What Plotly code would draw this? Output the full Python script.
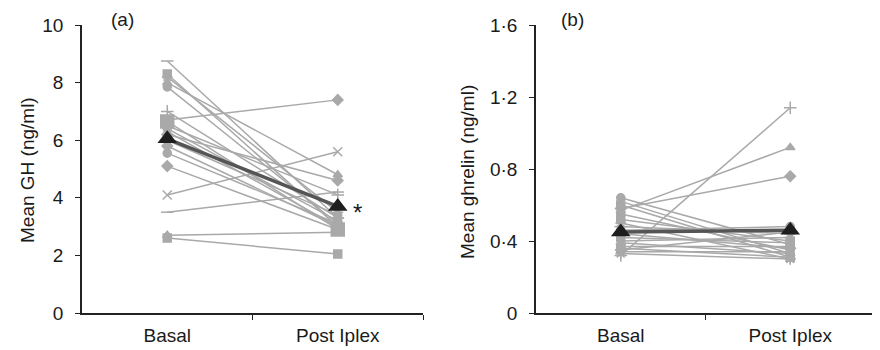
import plotly.graph_objects as go

categories = ["Basal", "Post Iplex"]

# Panel (a): mean GH (ng/ml), one pair per subject
gh_basal = [8.75, 8.3, 8.2, 8.0, 7.85, 6.7, 6.65, 6.5, 6.4, 6.3, 6.2, 5.55, 5.1, 4.1, 3.5, 2.7, 2.6, 6.0, 7.0, 5.8]
gh_post = [3.3, 3.0, 3.5, 4.8, 3.1, 7.4, 2.9, 4.1, 3.2, 3.0, 4.6, 3.1, 2.9, 5.6, 4.2, 2.8, 2.05, 3.4, 3.3, 3.0]
gh_mean = [6.05, 3.7]

# Panel (b): mean ghrelin (ng/ml)
gr_basal = [0.64, 0.62, 0.60, 0.58, 0.57, 0.55, 0.52, 0.50, 0.48, 0.46, 0.44, 0.42, 0.40, 0.39, 0.37, 0.36, 0.35, 0.34, 0.33, 0.32]
gr_post = [0.38, 0.33, 0.31, 0.76, 0.92, 0.35, 0.40, 0.30, 0.44, 0.48, 0.36, 0.39, 0.42, 0.33, 0.37, 0.31, 0.45, 0.34, 0.30, 1.14]
gr_mean = [0.45, 0.46]

gh_ticks = [0, 2, 4, 6, 8, 10]
gh_ticktext = ["0", "2", "4", "6", "8", "10"]
gr_ticks = [0, 0.4, 0.8, 1.2, 1.6]
gr_ticktext = ["0", "0·4", "0·8", "1·2", "1·6"]

symbols = ["line-ew-open", "square", "asterisk-open", "triangle-up", "circle", "diamond",
           "square", "cross-thin-open", "circle", "x-thin-open", "diamond", "circle",
           "diamond", "x-thin-open", "line-ew-open", "triangle-up", "square", "circle",
           "cross-thin-open", "diamond"]
gr_symbols = ["circle", "x-thin-open", "square", "diamond", "triangle-up", "circle",
              "square", "asterisk-open", "line-ew-open", "circle", "diamond", "square",
              "x-thin-open", "triangle-up", "circle", "square", "diamond", "x-thin-open",
              "asterisk-open", "cross-thin-open"]

xpos = [0.5, 1.5]
GRAY = "#a9a9a9"
OFF = 8  # page body margin offset in px

fig = go.Figure()


def add_panel(basal, post, mean, syms, xa, ya, big_sq=None):
    for i, (b, p) in enumerate(zip(basal, post)):
        s = syms[i % len(syms)]
        size = 8
        if s.endswith("-open"):
            size = 9
        if big_sq is not None and i == big_sq:
            size = 13
        fig.add_trace(go.Scatter(
            x=xpos, y=[b, p], mode="lines+markers", xaxis=xa, yaxis=ya,
            line=dict(color=GRAY, width=1.5),
            marker=dict(symbol=s, size=size, color=GRAY, line=dict(color=GRAY, width=1.5)),
            showlegend=False, hoverinfo="skip"))
    fig.add_trace(go.Scatter(
        x=xpos, y=mean, mode="lines+markers", xaxis=xa, yaxis=ya,
        line=dict(color="#555555", width=3.5),
        marker=dict(symbol="triangle-up", size=17, color="#1e1e1e"),
        showlegend=False, hoverinfo="skip"))


add_panel(gh_basal, gh_post, gh_mean, symbols, "x", "y", big_sq=6)
add_panel(gr_basal, gr_post, gr_mean, gr_symbols, "x2", "y2")

W, H = 880, 350
def px(xp):
    return (xp - OFF) / W
def py(yp):
    return (H - (yp - OFF)) / H

ydom = [py(313), py(25)]
FONT = "Liberation Sans, Arial, sans-serif"
tickfont = dict(family=FONT, size=19, color="#1a1a1a")

xcommon = dict(range=[0, 2], tickmode="array", tickvals=xpos, ticktext=categories,
               ticks="", showgrid=False, zeroline=False, showline=True,
               linecolor="#222222", linewidth=1.5, tickfont=tickfont,
               ticklabelstandoff=4,
               minor=dict(tickmode="array", tickvals=[1, 2], ticks="outside",
                          ticklen=5, tickcolor="#222222", tickwidth=1, showgrid=False),
               automargin=False)
ycommon = dict(tickmode="array", ticks="outside", ticklen=5, tickcolor="#222222",
               showgrid=False, zeroline=False, showline=True, linecolor="#222222",
               linewidth=1.5, tickfont=tickfont, ticklabelstandoff=8, automargin=False)

fig.update_layout(
    width=W, height=H,
    margin=dict(l=0, r=0, t=0, b=0),
    paper_bgcolor="white", plot_bgcolor="white",
    xaxis=dict(domain=[px(82), px(423)], anchor="y", **xcommon),
    xaxis2=dict(domain=[px(536), px(875)], anchor="y2", **xcommon),
    yaxis=dict(domain=ydom, range=[0, 10], tickvals=gh_ticks, ticktext=gh_ticktext,
               anchor="x", **ycommon),
    yaxis2=dict(domain=ydom, range=[0, 1.6], tickvals=gr_ticks, ticktext=gr_ticktext,
                anchor="x2", **ycommon),
    font=dict(family=FONT, color="#1a1a1a"),
)

labfont = dict(family=FONT, size=19, color="#1a1a1a")
fig.add_annotation(text="Mean GH (ng/ml)", xref="paper", yref="paper", x=px(27),
                   y=py(170), textangle=-90, showarrow=False, font=labfont,
                   xanchor="center", yanchor="middle")
fig.add_annotation(text="Mean ghrelin (ng/ml)", xref="paper", yref="paper", x=px(468),
                   y=py(172), textangle=-90, showarrow=False, font=labfont,
                   xanchor="center", yanchor="middle")
fig.add_annotation(text="(a)", xref="paper", yref="paper", x=px(122), y=py(20),
                   showarrow=False, font=labfont, xanchor="center", yanchor="middle")
fig.add_annotation(text="(b)", xref="paper", yref="paper", x=px(572), y=py(20),
                   showarrow=False, font=labfont, xanchor="center", yanchor="middle")
fig.add_annotation(text="*", xref="x", yref="y", x=1.5, y=gh_mean[1], xshift=20, yshift=-6,
                   showarrow=False, font=dict(family=FONT, size=24, color="#1a1a1a"))

fig.write_html("out.html")
